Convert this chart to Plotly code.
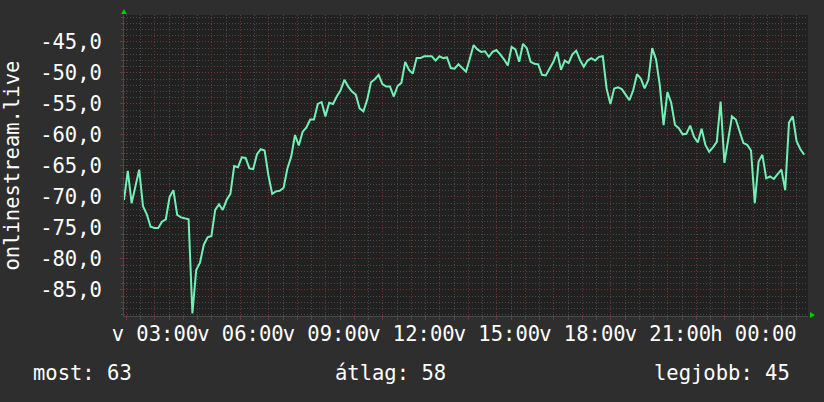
import pandas as pd
import plotly.graph_objects as go

# 8-minute samples, Sunday 01:55 -> Monday 01:55
START = "2024-03-10 01:55"
STEP = "8min"

LEVEL = [
    -70.5, -65.8, -71.0, -68.3, -65.6, -71.5, -72.8, -74.8, -75.0, -75.0,
    -74.0, -73.6, -70.0, -68.9, -72.9, -73.3, -73.4, -73.6, -88.8, -81.8,
    -80.6, -77.7, -76.5, -76.3, -72.1, -71.2, -72.1, -70.5, -69.5, -65.0,
    -65.2, -63.6, -63.7, -65.4, -65.5, -63.1, -62.3, -62.5, -66.5, -69.5,
    -69.1, -69.0, -68.5, -65.4, -63.5, -60.0, -61.7, -59.5, -58.8, -57.5,
    -57.5, -55.0, -54.7, -57.0, -54.8, -55.0, -53.8, -52.8, -51.1, -52.2,
    -53.0, -53.5, -55.7, -56.2, -54.3, -51.5, -51.0, -50.3, -51.8, -52.2,
    -52.2, -53.8, -52.1, -51.6, -48.2, -49.5, -50.1, -47.6, -47.6, -47.3,
    -47.3, -47.3, -48.0, -47.3, -47.6, -47.5, -49.2, -49.3, -48.6, -49.2,
    -49.8, -47.7, -45.5, -46.2, -46.6, -46.5, -47.4, -46.6, -46.3, -47.0,
    -47.8, -48.8, -45.8, -46.2, -48.2, -45.3, -46.0, -48.2, -48.5, -48.6,
    -50.3, -50.4, -49.4, -48.2, -46.6, -49.5, -48.0, -48.4, -47.0, -46.4,
    -47.9, -49.0, -48.0, -47.6, -48.0, -47.4, -47.3, -52.5, -55.0, -52.5,
    -52.3, -52.6, -53.5, -54.4, -52.8, -50.2, -50.9, -52.5, -51.1, -46.0,
    -47.8, -52.0, -58.4, -53.1, -54.8, -58.4, -58.9, -59.9, -59.8, -58.5,
    -60.3, -61.2, -59.0, -61.6, -62.7, -62.0, -61.1, -54.6, -64.5, -61.0,
    -57.0, -57.5, -59.5, -61.3, -61.6, -62.5, -71.0, -64.3, -63.2, -67.0,
    -66.7, -67.1, -66.3, -65.6, -68.9, -58.0, -57.0, -61.0, -62.3, -63.2,
]

HOUR_TICKS = pd.date_range("2024-03-10 02:00", "2024-03-11 01:00", freq="h")
DAY_ABBR = {10: "v", 11: "h"}

Y_TICKS = [-85, -80, -75, -70, -65, -60, -55, -50, -45]
Y_LABELS = ["-85,0", "-80,0", "-75,0", "-70,0", "-65,0", "-60,0", "-55,0", "-50,0", "-45,0"]

SUMMARY = ["most: 63", "átlag: 58", "legjobb: 45"]

times = pd.date_range(START, periods=len(LEVEL), freq=STEP)
x_labels = [f"{DAY_ABBR[t.day]} {t:%H:%M}" if t.hour % 3 == 0 else "" for t in HOUR_TICKS]

BG = "#2e2e2e"
PLOT_BG = "#212121"
MAJOR = "#763232"
MINOR = "#4a4a4a"
FONT = "DejaVu Sans Mono"

fig = go.Figure(go.Scatter(
    x=times, y=LEVEL, mode="lines",
    line=dict(color="#72f0b6", width=2),
    hoverinfo="skip",
))

fig.update_layout(
    width=824, height=402,
    margin=dict(l=124, r=16, t=15, b=86),
    paper_bgcolor=BG, plot_bgcolor=PLOT_BG,
    showlegend=False,
    font=dict(family=FONT, size=20, color="#ffffff"),
    xaxis=dict(
        range=[pd.Timestamp(START), pd.Timestamp(START) + pd.Timedelta(hours=24)],
        tickmode="array", tickvals=list(HOUR_TICKS), ticktext=x_labels,
        tickangle=0, automargin=False,
        showgrid=True, gridcolor=MAJOR, griddash="1px,2px", gridwidth=1,
        ticks="outside", ticklen=3, tickcolor=MAJOR,
        showline=True, linecolor="#4a4a4a", linewidth=1,
        zeroline=False,
        ticklabelstandoff=-4,
        tickfont=dict(family=FONT, size=20.5, color="#ffffff"),
        minor=dict(tick0="2024-03-10 00:00", dtick=1800000, showgrid=True,
                   gridcolor=MINOR, griddash="1px,2px", gridwidth=1,
                   ticks="outside", ticklen=3, tickcolor=MINOR),
    ),
    yaxis=dict(
        range=[-89.2, -40.65],
        tickmode="array", tickvals=Y_TICKS, ticktext=Y_LABELS,
        automargin=False,
        showgrid=True, gridcolor=MAJOR, griddash="1px,2px", gridwidth=1,
        ticks="outside", ticklen=3, tickcolor=MAJOR,
        showline=True, linecolor="#4a4a4a", linewidth=1,
        zeroline=False,
        ticklabelstandoff=14,
        tickfont=dict(family=FONT, size=20.5, color="#ffffff"),
        minor=dict(dtick=1, showgrid=True, gridcolor=MINOR, griddash="1px,2px",
                   gridwidth=1, ticks="outside", ticklen=2, tickcolor=MINOR),
    ),
)

# y-axis title
fig.add_annotation(text="onlinestream.live", xref="paper", yref="paper",
                   x=-0.1652, y=0.5, textangle=-90, showarrow=False,
                   xanchor="center", yanchor="middle",
                   font=dict(family=FONT, size=20.5, color="#ffffff"))

# summary line under the graph
for text, px, anchor in zip(SUMMARY, [31, 333, 792], ["left", "left", "right"]):
    fig.add_annotation(text=text, xref="paper", yref="paper",
                       x=(px - 124) / 684, y=(316 - 373) / 301,
                       xanchor=anchor, yanchor="middle", showarrow=False,
                       font=dict(family=FONT, size=20.5, color="#ffffff"))

# rrdtool style axis arrows
fig.add_shape(type="path", xref="paper", yref="paper",
              path="M -0.0044 1.0033 L 0.0044 1.0033 L 0 1.0199 Z",
              fillcolor="#00cc00", line=dict(width=0))
fig.add_shape(type="path", xref="paper", yref="paper",
              path="M 1.0029 0.0133 L 1.0029 -0.0066 L 1.0102 0.0033 Z",
              fillcolor="#00cc00", line=dict(width=0))

fig.write_html(
    "out.html",
    config={"displayModeBar": False},
    post_script="document.body.style.margin='0';document.body.style.background='%s';" % BG,
)
